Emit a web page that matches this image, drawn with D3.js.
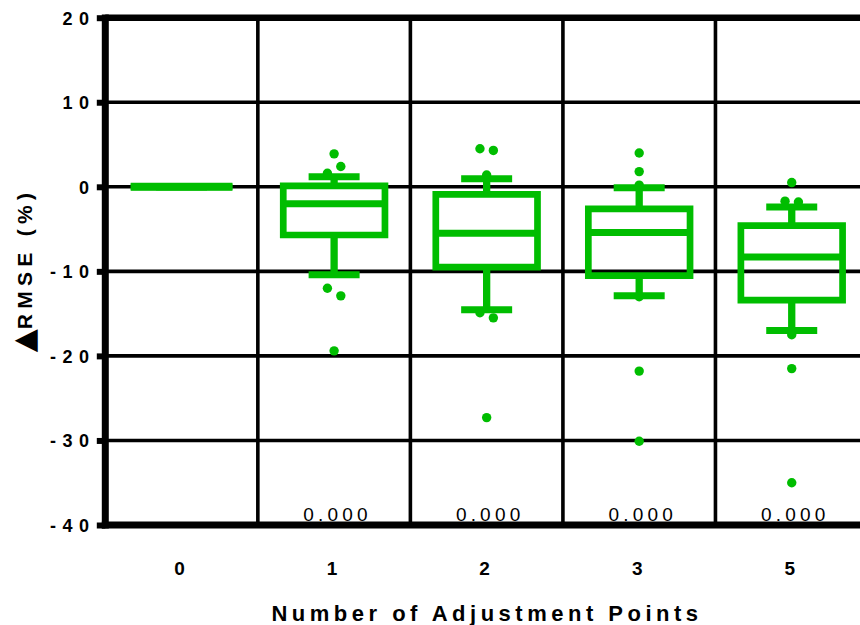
<!DOCTYPE html>
<html>
<head>
<meta charset="utf-8">
<script src="https://cdn.jsdelivr.net/npm/d3@7"></script>
<style>
  html, body { margin: 0; padding: 0; background: #fff; }
  svg { display: block; }
</style>
</head>
<body>
<svg id="chart" width="860" height="625"></svg>
<script>
// ---- data ----
const categories = ["0", "1", "2", "3", "5"];
const q1 = [0, -5.7, -9.5, -10.5, -13.4];
const median = [0, -2.0, -5.5, -5.4, -8.3];
const q3 = [0, 0.1, -0.9, -2.6, -4.6];
const whiskerLow = [0, -10.4, -14.55, -12.9, -17.0];
const whiskerHigh = [0, 1.2, 0.95, -0.1, -2.4];
const outliers = [
  [],
  [3.9, 1.6, 2.4, -12.0, -12.9, -19.4],
  [4.5, 4.3, 1.4, -14.9, -15.5, -27.3],
  [4.0, 1.8, 0.2, -13.0, -21.8, -30.1],
  [0.5, -1.7, -1.8, -17.5, -21.5, -35.0]
];
const pLabels = ["", "0.000", "0.000", "0.000", "0.000"];
const yTicks = [20, 10, 0, -10, -20, -30, -40];
const xTitle = "Number of Adjustment Points";
const yTitleSymbol = "\u25B2";
const yTitleText = "RMSE (%)";

// ---- layout ----
const plotLeft = 105.3, plotRight = 868, plotTop = 17.7, plotBottom = 525;
const green = "#00bd00";
const font = "'Liberation Sans', Arial, sans-serif";

const svg = d3.select("#chart");
const x = d3.scaleBand().domain(categories).range([plotLeft, plotRight]);
const y = d3.scaleLinear().domain([-40, 20]).range([plotBottom, plotTop]);

// horizontal grid lines
svg.append("g").selectAll("line")
  .data(yTicks.filter(v => v !== -40))
  .join("line")
  .attr("x1", plotLeft).attr("x2", plotRight)
  .attr("y1", d => y(d)).attr("y2", d => y(d))
  .attr("stroke", "#000")
  .attr("stroke-width", d => d === 20 ? 6.5 : 3.6);

// vertical grid lines at band boundaries
svg.append("g").selectAll("line")
  .data(categories.slice(1))
  .join("line")
  .attr("x1", d => x(d)).attr("x2", d => x(d))
  .attr("y1", plotTop).attr("y2", plotBottom)
  .attr("stroke", "#000")
  .attr("stroke-width", 3.6);

// bottom axis line
svg.append("line")
  .attr("x1", plotLeft - 3.5).attr("x2", plotRight)
  .attr("y1", plotBottom).attr("y2", plotBottom)
  .attr("stroke", "#000").attr("stroke-width", 7);

// left axis
const yAxis = d3.axisLeft(y).tickValues(yTicks).tickSize(8.5).tickSizeOuter(0).tickPadding(8);
const gy = svg.append("g").attr("transform", `translate(${plotLeft},0)`).call(yAxis);
gy.select(".domain").attr("stroke", "#000").attr("stroke-width", 7)
  .attr("d", `M0,${plotBottom + 3.5}V${plotTop - 3.2}`);
gy.selectAll(".tick line").attr("stroke", "#000").attr("stroke-width", 6);
gy.selectAll(".tick text")
  .attr("font-family", font)
  .attr("font-weight", "bold")
  .attr("font-size", 18)
  .attr("letter-spacing", 6.5)
  .attr("fill", "#000")
  .attr("x", -9.8)
  .attr("dy", "0.36em")
  .text(d => d);

// boxes
const cx = d => x(d) + x.bandwidth() / 2;
const boxW = 101.7, capW = 51;
const gBox = svg.append("g");
categories.forEach((c, i) => {
  const g = gBox.append("g");
  const xc = cx(c);
  g.append("line").attr("x1", xc).attr("x2", xc)
    .attr("y1", y(q3[i])).attr("y2", y(whiskerHigh[i]))
    .attr("stroke", green).attr("stroke-width", 7.3);
  g.append("line").attr("x1", xc).attr("x2", xc)
    .attr("y1", y(q1[i])).attr("y2", y(whiskerLow[i]))
    .attr("stroke", green).attr("stroke-width", 7.3);
  [whiskerHigh[i], whiskerLow[i]].forEach(v => {
    g.append("line").attr("x1", xc - capW / 2).attr("x2", xc + capW / 2)
      .attr("y1", y(v)).attr("y2", y(v))
      .attr("stroke", green).attr("stroke-width", 7);
  });
  const x0 = xc - boxW / 2, x1 = xc + boxW / 2;
  const yt = y(q3[i]), yb = y(q1[i]);
  g.append("path")
    .attr("d", `M${x0},${yt}H${x1}V${yb}H${x0}Z`)
    .attr("fill", "none").attr("stroke", green).attr("stroke-width", 6.7)
    .attr("stroke-linejoin", "miter");
  g.append("line").attr("x1", x0).attr("x2", x1)
    .attr("y1", y(median[i])).attr("y2", y(median[i]))
    .attr("stroke", green).attr("stroke-width", i === 0 ? 8 : 7);
});

// outlier dots: points closer than a dot diameter share a row and spread sideways
const r = 4.7, rowGap = 2 * r, spread = 13.4;
const dots = [];
categories.forEach((c, i) => {
  const pts = outliers[i].map((v, k) => ({ v, k, py: y(v) }));
  const sorted = pts.slice().sort((a, b) => a.py - b.py);
  const rows = [];
  sorted.forEach(p => {
    const last = rows[rows.length - 1];
    if (last && p.py - last[0].py < rowGap) last.push(p); else rows.push([p]);
  });
  rows.forEach(row => {
    row.sort((a, b) => a.k - b.k);
    row.forEach((p, j) => {
      dots.push({ x: cx(c) + (j - (row.length - 1) / 2) * spread, y: p.py });
    });
  });
});
svg.append("g").selectAll("circle")
  .data(dots).join("circle")
  .attr("cx", d => d.x).attr("cy", d => d.y).attr("r", r)
  .attr("fill", green);

// p-value labels
svg.append("g").selectAll("text")
  .data(categories.map((c, i) => ({ c, t: pLabels[i] })).filter(d => d.t))
  .join("text")
  .attr("x", d => cx(d.c) + 3.5)
  .attr("y", 520.5)
  .attr("text-anchor", "middle")
  .attr("font-family", font)
  .attr("font-size", 19)
  .attr("letter-spacing", 4.2)
  .attr("fill", "#000")
  .text(d => d.t);

// x category labels
svg.append("g").selectAll("text")
  .data(categories).join("text")
  .attr("x", d => cx(d) - 2)
  .attr("y", 575)
  .attr("text-anchor", "middle")
  .attr("font-family", font)
  .attr("font-weight", "bold")
  .attr("font-size", 19)
  .attr("fill", "#000")
  .text(d => d);

// x title
svg.append("text")
  .attr("x", 487).attr("y", 620.5)
  .attr("text-anchor", "middle")
  .attr("font-family", font)
  .attr("font-weight", "bold")
  .attr("font-size", 22)
  .attr("letter-spacing", 4.5)
  .attr("fill", "#000")
  .text(xTitle);

// y title
const yt = svg.append("text")
  .attr("transform", "translate(32,270) rotate(-90)")
  .attr("text-anchor", "middle")
  .attr("font-family", font)
  .attr("font-weight", "bold")
  .attr("font-size", 21)
  .attr("letter-spacing", 5.3)
  .attr("fill", "#000");
yt.append("tspan").attr("font-family", "'DejaVu Sans', sans-serif").attr("font-size", 30)
  .attr("letter-spacing", 0).attr("dy", 1.5).text(yTitleSymbol);
yt.append("tspan").attr("dy", -1.5).text(yTitleText);
</script>
</body>
</html>
